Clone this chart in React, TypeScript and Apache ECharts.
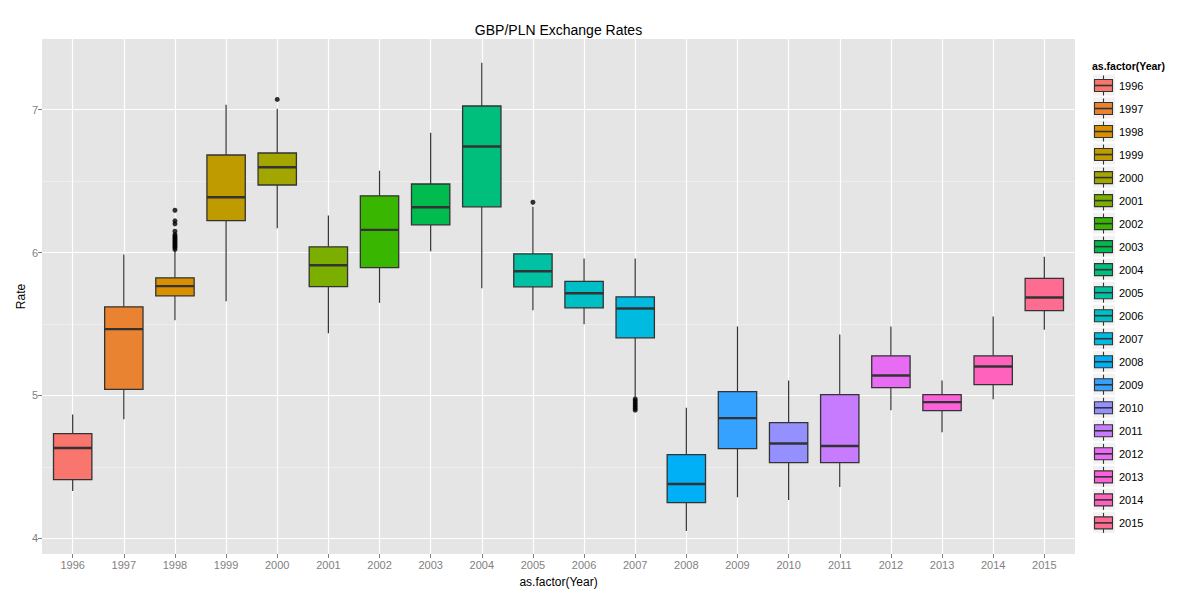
import React, { useEffect, useRef } from "react";
import * as echarts from "echarts";

// Yearly GBP/PLN box statistics: whisker ends, quartiles and median
const years = [
  "1996", "1997", "1998", "1999", "2000", "2001", "2002", "2003", "2004", "2005",
  "2006", "2007", "2008", "2009", "2010", "2011", "2012", "2013", "2014", "2015",
];
const lowWhiskers = [
  4.331, 4.834, 5.527, 5.66, 6.17, 5.436, 5.648, 6.009, 5.75, 5.597,
  5.499, 4.99, 4.051, 4.287, 4.268, 4.359, 4.897, 4.743, 4.974, 5.459,
];
const lowerQuartiles = [
  4.41, 5.042, 5.697, 6.224, 6.473, 5.762, 5.895, 6.194, 6.32, 5.76,
  5.613, 5.403, 4.25, 4.627, 4.529, 4.529, 5.054, 4.893, 5.075, 5.594,
];
const medians = [
  4.632, 5.464, 5.765, 6.387, 6.597, 5.911, 6.159, 6.317, 6.743, 5.869,
  5.715, 5.608, 4.38, 4.841, 4.664, 4.646, 5.14, 4.953, 5.203, 5.685,
];
const upperQuartiles = [
  4.732, 5.62, 5.823, 6.683, 6.697, 6.04, 6.397, 6.48, 7.026, 5.991,
  5.799, 5.69, 4.585, 5.026, 4.809, 5.005, 5.277, 5.005, 5.277, 5.82,
];
const highWhiskers = [
  4.867, 5.986, 6.012, 7.035, 7.007, 6.259, 6.573, 6.839, 7.329, 6.32,
  5.958, 5.958, 4.914, 5.483, 5.105, 5.427, 5.483, 5.105, 5.552, 5.97,
];

// Outlying daily rates
const outlierYears = [
  "1998", "1998", "1998", "1998", "1998", "1998", "1998", "1998", "1998",
  "1998", "1998", "1998", "1998", "1998", "1998",
  "2000", "2005",
  "2007", "2007", "2007", "2007", "2007", "2007", "2007",
];
const outlierRates = [
  6.296, 6.222, 6.201, 6.149, 6.126, 6.115, 6.105, 6.095, 6.085,
  6.075, 6.065, 6.055, 6.045, 6.035, 6.022,
  7.072, 6.352,
  4.975, 4.962, 4.948, 4.935, 4.922, 4.909, 4.897,
];

const majorRates = [4, 5, 6, 7];
const minorRates = [4.5, 5.5, 6.5, 7.5];

const palette = [
  "#F8766D", "#EA8331", "#D89000", "#C09B00", "#A3A500", "#7CAE00", "#39B600",
  "#00BB4E", "#00BF7D", "#00C1A3", "#00BFC4", "#00BAE0", "#00B0F6", "#35A2FF",
  "#9590FF", "#C77CFF", "#E76BF3", "#FA62DB", "#FF62BC", "#FF6C91",
];

const FONT = "'Liberation Sans', Arial, sans-serif";
const OUTLINE = "#333333";
const BOX_WIDTH = 0.75;

export default function App() {
  const ref = useRef<HTMLDivElement>(null);

  useEffect(() => {
    if (!ref.current) return;
    const chart = echarts.init(ref.current, null, { renderer: "svg" });

    const boxData = years.map((_, i) => [
      i,
      lowWhiskers[i],
      lowerQuartiles[i],
      medians[i],
      upperQuartiles[i],
      highWhiskers[i],
    ]);
    const outlierData = outlierYears.map((y, k) => [years.indexOf(y), outlierRates[k]]);
    const categoryIdx = years.map((_, i) => i);

    // Legend keys drawn as small boxplot glyphs
    const legendTop = 74.5;
    const legendStep = 23.02;
    const legendItems: any[] = [];
    years.forEach((y, i) => {
      const top = legendTop + i * legendStep;
      const cx = 1103.5;
      legendItems.push(
        { type: "rect", shape: { x: 1093, y: top, width: 22, height: 21 }, style: { fill: "#F2F2F2" } },
        { type: "line", shape: { x1: cx, y1: top + 1, x2: cx, y2: top + 5 }, style: { stroke: OUTLINE, lineWidth: 1.1 } },
        { type: "line", shape: { x1: cx, y1: top + 17, x2: cx, y2: top + 21 }, style: { stroke: OUTLINE, lineWidth: 1.1 } },
        {
          type: "rect",
          shape: { x: 1094.5, y: top + 5, width: 18, height: 12 },
          style: { fill: palette[i], stroke: OUTLINE, lineWidth: 1.1 },
        },
        { type: "line", shape: { x1: 1094.5, y1: top + 11, x2: 1112.5, y2: top + 11 }, style: { stroke: OUTLINE, lineWidth: 1.6 } },
        {
          type: "text",
          x: 1119,
          y: top + 11,
          style: { text: y, font: `11px ${FONT}`, fill: "#000", textVerticalAlign: "middle" },
        }
      );
    });

    const option: any = {
      animation: false,
      backgroundColor: "#FFFFFF",
      title: {
        text: "GBP/PLN Exchange Rates",
        left: 558.5,
        top: 23,
        padding: 0,
        textAlign: "center",
        textStyle: { fontFamily: FONT, fontSize: 14, fontWeight: "normal", color: "#000" },
      },
      grid: {
        left: 42,
        top: 39,
        width: 1033,
        height: 515,
        show: true,
        backgroundColor: "#E5E5E5",
        borderWidth: 0,
      },
      xAxis: {
        type: "value",
        min: -0.6,
        max: 19.6,
        axisLine: { show: false, onZero: false },
        axisTick: {
          show: true,
          length: 4,
          customValues: categoryIdx,
          lineStyle: { color: "#7F7F7F", width: 1 },
        },
        axisLabel: {
          customValues: categoryIdx,
          formatter: (v: number) => years[Math.round(v)],
          color: "#7F7F7F",
          fontFamily: FONT,
          fontSize: 11,
          margin: 5,
        },
        splitLine: { show: true, showMinLine: true, showMaxLine: true, lineStyle: { color: "#FFFFFF", width: 1.2 } },
      },
      yAxis: [
        {
          type: "value",
          min: 3.89,
          max: 7.495,
          position: "left",
          axisLine: { show: false, onZero: false },
          axisTick: {
            show: true,
            length: 4,
            customValues: majorRates,
            lineStyle: { color: "#7F7F7F", width: 1 },
          },
          axisLabel: {
            customValues: majorRates,
            color: "#7F7F7F",
            fontFamily: FONT,
            fontSize: 11,
            margin: 4,
          },
          splitLine: { show: true, showMinLine: true, showMaxLine: true, lineStyle: { color: "#FFFFFF", width: 1.2 } },
        },
        {
          type: "value",
          min: 3.89,
          max: 7.495,
          position: "left",
          axisLine: { show: false, onZero: false },
          axisTick: { show: false, customValues: minorRates },
          axisLabel: { show: false, customValues: minorRates },
          splitLine: { show: true, showMinLine: true, showMaxLine: true, lineStyle: { color: "#F2F2F2", width: 0.7 } },
        },
      ],
      graphic: [
        {
          type: "text",
          x: 558.5,
          y: 582,
          style: {
            text: "as.factor(Year)",
            font: `12px ${FONT}`,
            fill: "#000",
            textAlign: "center",
            textVerticalAlign: "middle",
          },
        },
        {
          type: "text",
          x: 20.5,
          y: 296.5,
          rotation: Math.PI / 2,
          style: {
            text: "Rate",
            font: `12px ${FONT}`,
            fill: "#000",
            textAlign: "center",
            textVerticalAlign: "middle",
          },
        },
        {
          type: "text",
          x: 1092,
          y: 66,
          style: {
            text: "as.factor(Year)",
            font: `bold 10.5px ${FONT}`,
            fill: "#000",
            textVerticalAlign: "middle",
          },
        },
        ...legendItems,
      ],
      series: [
        {
          type: "custom",
          name: "Rate",
          coordinateSystem: "cartesian2d",
          xAxisIndex: 0,
          yAxisIndex: 0,
          encode: { x: 0, y: [1, 2, 3, 4, 5] },
          data: boxData,
          z: 3,
          renderItem: (params: any, api: any) => {
            const i = api.value(0);
            const lo = api.coord([i, api.value(1)]);
            const q1 = api.coord([i, api.value(2)]);
            const med = api.coord([i, api.value(3)]);
            const q3 = api.coord([i, api.value(4)]);
            const hi = api.coord([i, api.value(5)]);
            const half = api.size([BOX_WIDTH, 0])[0] / 2;
            const x = lo[0];
            return {
              type: "group",
              children: [
                {
                  type: "line",
                  shape: { x1: x, y1: hi[1], x2: x, y2: q3[1] },
                  style: { stroke: OUTLINE, lineWidth: 1.2 },
                },
                {
                  type: "line",
                  shape: { x1: x, y1: q1[1], x2: x, y2: lo[1] },
                  style: { stroke: OUTLINE, lineWidth: 1.2 },
                },
                {
                  type: "rect",
                  shape: { x: x - half, y: q3[1], width: half * 2, height: q1[1] - q3[1] },
                  style: { fill: palette[params.dataIndex], stroke: OUTLINE, lineWidth: 1.3 },
                },
                {
                  type: "line",
                  shape: { x1: x - half, y1: med[1], x2: x + half, y2: med[1] },
                  style: { stroke: OUTLINE, lineWidth: 2.4 },
                },
              ],
            };
          },
        },
        {
          type: "scatter",
          name: "Outliers",
          xAxisIndex: 0,
          yAxisIndex: 0,
          data: outlierData,
          symbol: "circle",
          symbolSize: 5,
          itemStyle: { color: "#000000" },
          z: 4,
        },
      ],
    };

    chart.setOption(option);
    return () => chart.dispose();
  }, []);

  return (
    <div
      ref={ref}
      style={{ position: "fixed", left: 0, top: 0, width: 1200, height: 600 }}
    />
  );
}
